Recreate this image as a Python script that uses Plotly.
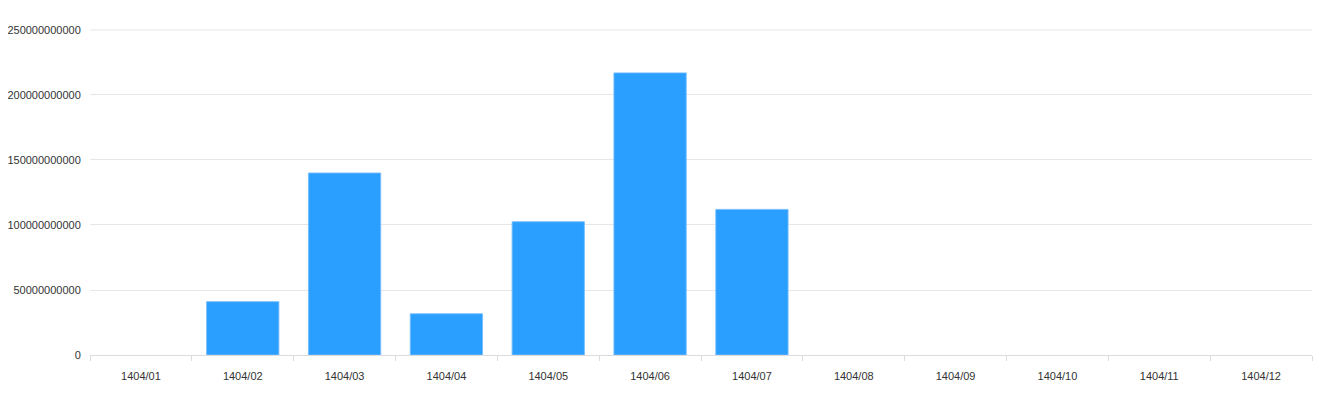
import plotly.graph_objects as go

categories = ["1404/01", "1404/02", "1404/03", "1404/04", "1404/05", "1404/06",
              "1404/07", "1404/08", "1404/09", "1404/10", "1404/11", "1404/12"]
values = [0, 41000000000, 140000000000, 31700000000, 102500000000, 217000000000,
          112000000000, 0, 0, 0, 0, 0]
y_ticks = [0, 50000000000, 100000000000, 150000000000, 200000000000, 250000000000]

fig = go.Figure()
fig.add_trace(go.Bar(
    x=categories, y=values,
    marker=dict(color="rgba(26,152,255,0.93)",
                line=dict(color="rgba(120,190,255,0.9)",
                          width=[0 if v == 0 else 1 for v in values])),
    hoverinfo="x+y",
))

fig.update_layout(
    width=1328, height=384,
    margin=dict(l=82, r=24, t=21, b=37),
    paper_bgcolor="white", plot_bgcolor="white",
    bargap=0.29,
    showlegend=False,
    font=dict(family="Arial, Liberation Sans, sans-serif", size=11, color="#333"),
)
# top grid line (plotly hides grid lines at the plot edge)
fig.add_shape(type="line", xref="paper", yref="y", x0=0, x1=1,
              y0=y_ticks[-1], y1=y_ticks[-1], layer="below",
              line=dict(color="#e6e6e6", width=1))
fig.update_xaxes(
    type="category", tickson="boundaries", ticks="outside", ticklen=5,
    tickcolor="#dcdcdc", showline=True, linecolor="#dcdcdc", linewidth=1,
    showgrid=False, tickfont=dict(size=11, color="#333"),
    ticklabelstandoff=11, automargin=False,
)
fig.update_yaxes(
    range=[0, 250000000000 * 1.003], tickvals=y_ticks, ticktext=[str(v) for v in y_ticks],
    showgrid=True, gridcolor="#e6e6e6", gridwidth=1, zeroline=False,
    showline=False, ticks="outside", ticklen=6, tickcolor="rgba(0,0,0,0)",
    tickfont=dict(size=11, color="#333"), automargin=False,
)

fig.write_html("out.html")
